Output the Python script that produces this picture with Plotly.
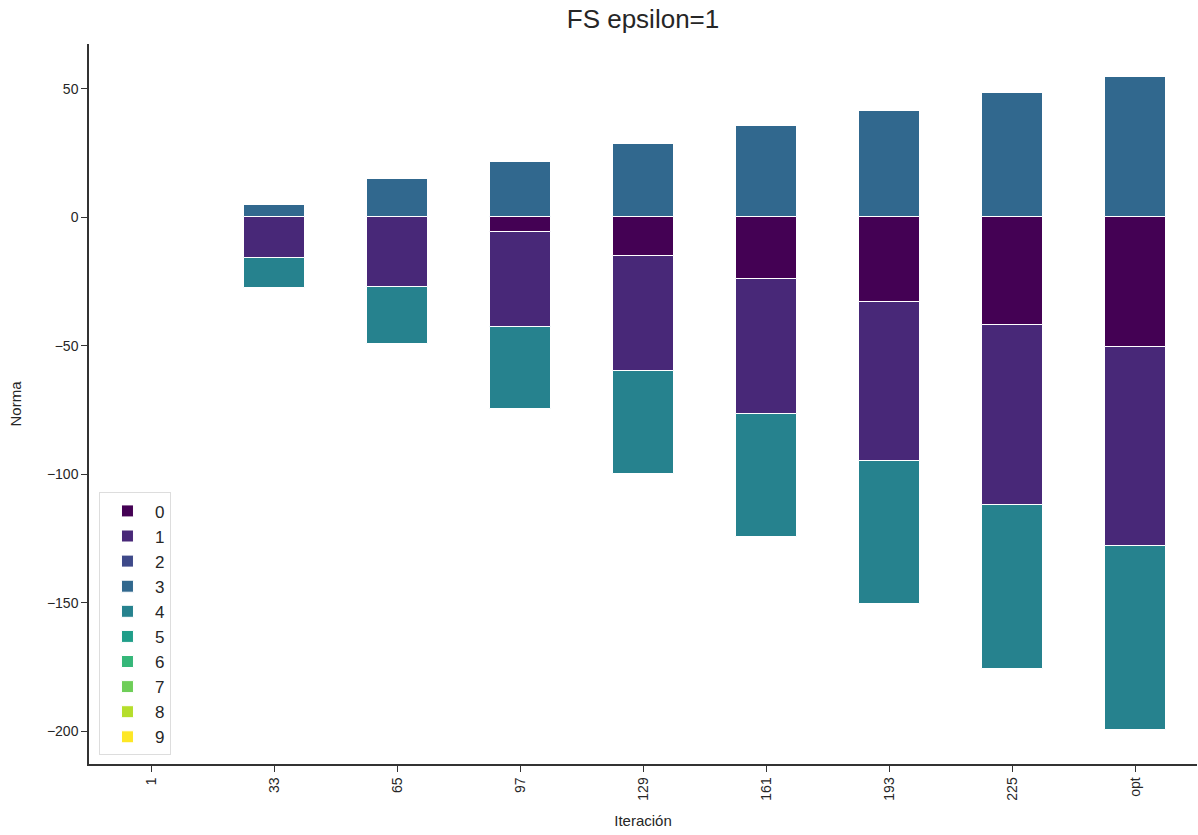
import plotly.graph_objects as go

categories = ["1", "33", "65", "97", "129", "161", "193", "225", "opt"]
series_names = ["0", "1", "2", "3", "4", "5", "6", "7", "8", "9"]
s0 = [0, 0, 0, -5.8, -15.2, -24.2, -33.1, -42.1, -50.3]
s1 = [0, -16.0, -27.3, -36.7, -44.8, -52.5, -61.9, -69.7, -77.5]
s2 = [0, 0, 0, 0, 0, 0, 0, 0, 0]
s3 = [0, 4.7, 14.8, 21.4, 28.4, 35.4, 41.3, 48.3, 54.5]
s4 = [0, -11.7, -22.2, -31.9, -39.7, -47.6, -55.4, -63.9, -71.7]
s5 = [0, 0, 0, 0, 0, 0, 0, 0, 0]
s6 = [0, 0, 0, 0, 0, 0, 0, 0, 0]
s7 = [0, 0, 0, 0, 0, 0, 0, 0, 0]
s8 = [0, 0, 0, 0, 0, 0, 0, 0, 0]
s9 = [0, 0, 0, 0, 0, 0, 0, 0, 0]
all_series = [s0, s1, s2, s3, s4, s5, s6, s7, s8, s9]
colors = ["#440154", "#482878", "#3e4989", "#31688e", "#26828e",
          "#1f9e89", "#35b779", "#6ece58", "#b5de2b", "#fde725"]

fig = go.Figure()
for name, vals, col in zip(series_names, all_series, colors):
    fig.add_trace(go.Bar(x=categories, y=vals, name=name, marker_color=col,
                         marker_line=dict(color="white", width=1), width=0.5))

font = "Liberation Sans, Arial, sans-serif"
fig.update_layout(
    barmode="relative",
    width=1198, height=835,
    margin=dict(l=89, r=1, t=44, b=71),
    plot_bgcolor="white", paper_bgcolor="white",
    font=dict(family=font, size=14, color="#262626"),
    title=dict(text="FS epsilon=1", x=0.5, xref="paper", xanchor="center",
               y=0.988, yanchor="top", font=dict(size=26, color="#262626")),
    legend=dict(x=0.009, y=0.012, xanchor="left", yanchor="bottom",
                bordercolor="#dddddd", borderwidth=1, bgcolor="white",
                font=dict(size=17), traceorder="normal", tracegroupgap=0,
                itemwidth=45),
    bargap=0,
)
fig.update_xaxes(
    type="category", range=[-0.51, 8.5],
    showline=True, linecolor="#333333", linewidth=1.5,
    ticks="outside", ticklen=6, tickwidth=1.2, tickcolor="#333333",
    tickangle=-90, showgrid=False, zeroline=False,
    title=dict(text="Iteración", font=dict(size=15), standoff=16),
    tickfont=dict(size=14),
)
fig.update_yaxes(
    range=[-212.7, 67.4],
    tickvals=[-200, -150, -100, -50, 0, 50],
    showline=True, linecolor="#333333", linewidth=1.5,
    ticks="outside", ticklen=6, tickwidth=1.2, tickcolor="#333333",
    showgrid=False, zeroline=False,
    title=dict(text="Norma", font=dict(size=15), standoff=22),
    tickfont=dict(size=14),
)
fig.write_html("out.html")
